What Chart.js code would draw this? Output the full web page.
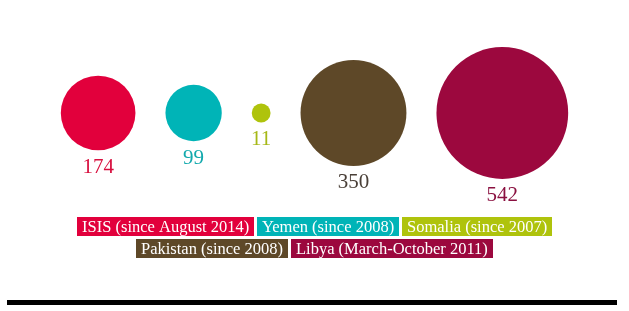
<!DOCTYPE html>
<html>
<head>
<meta charset="utf-8">
<script src="https://cdn.jsdelivr.net/npm/chart.js@4.4.1/dist/chart.umd.min.js"></script>
<style>
  body { margin: 0; background: #fff; }
  #wrap { width: 629px; height: 311px; position: relative; }
</style>
</head>
<body>
<div id="wrap"><canvas id="myChart"></canvas></div>
<script>
// data
const labels = ['ISIS (since August 2014)', 'Yemen (since 2008)', 'Somalia (since 2007)', 'Pakistan (since 2008)', 'Libya (March-October 2011)'];
const values = [174, 99, 11, 350, 542];
const colors = ['#e2003c', '#00b4b7', '#afc30c', '#5e4828', '#9c083e'];
const labelColors = ['#d8103f', '#12a9ad', '#a6b816', '#4a4038', '#8a1040'];

const W = 629, H = 311;
const SCALE = 2.83;   // px radius per sqrt(value)
const GAP = 30;
const CY = 113;

// lay the bubbles out side by side, centred
let radii = values.map(v => SCALE * Math.sqrt(v));
let total = radii.reduce((a, r) => a + 2 * r, 0) + GAP * (radii.length - 1);
let xs = [];
let cur = (W - total) / 2;
for (let i = 0; i < radii.length; i++) {
    xs.push(cur + radii[i]);
    cur += 2 * radii[i] + GAP;
}

const datasets = [];
for (let i = 0; i < values.length; i++) {
    datasets.push({
        label: labels[i],
        data: [{ x: xs[i], y: CY, r: radii[i], v: values[i] }],
        backgroundColor: colors[i],
        borderWidth: 0,
        hoverBorderWidth: 0
    });
}

// value under each bubble
const valueLabels = {
    id: 'valueLabels',
    afterDatasetsDraw(chart) {
        const c = chart.ctx;
        c.save();
        c.font = '21px "Liberation Serif"';
        c.textAlign = 'center';
        c.textBaseline = 'middle';
        chart.data.datasets.forEach((ds, i) => {
            const el = chart.getDatasetMeta(i).data[0];
            const p = ds.data[0];
            c.fillStyle = labelColors[i];
            c.fillText(String(p.v), el.x, el.y + p.r + 17);
        });
        c.restore();
    }
};

// boxed legend in two rows plus the heavy rule at the bottom
const boxLegend = {
    id: 'boxLegend',
    afterDraw(chart) {
        const c = chart.ctx;
        c.save();
        c.font = '16.5px "Liberation Serif"';
        c.textBaseline = 'middle';
        const rows = [[0, 1, 2], [3, 4]];
        const tops = [217, 239];
        const pad = 5, bh = 19, gap = 3;
        rows.forEach((row, ri) => {
            const widths = row.map(i => Math.round(c.measureText(labels[i]).width + pad * 2));
            const tw = widths.reduce((a, b) => a + b, 0) + gap * (row.length - 1);
            let x = Math.round((W - tw) / 2);
            row.forEach((i, k) => {
                c.fillStyle = colors[i];
                c.fillRect(x, tops[ri], widths[k], bh);
                c.fillStyle = '#fff';
                c.fillText(labels[i], x + pad, tops[ri] + bh / 2 + 1);
                x += widths[k] + gap;
            });
        });
        c.fillStyle = '#000';
        c.fillRect(7, 300, 610, 5);
        c.restore();
    }
};

new Chart(document.getElementById('myChart'), {
    type: 'bubble',
    data: { datasets: datasets },
    options: {
        responsive: true,
        maintainAspectRatio: false,
        animation: false,
        layout: { padding: 0, autoPadding: false },
        scales: {
            x: { type: 'linear', min: 0, max: W, display: false },
            y: { type: 'linear', min: 0, max: H, reverse: true, display: false }
        },
        plugins: {
            legend: { display: false },
            tooltip: { enabled: false }
        },
        clip: false
    },
    plugins: [valueLabels, boxLegend]
});
</script>
</body>
</html>
